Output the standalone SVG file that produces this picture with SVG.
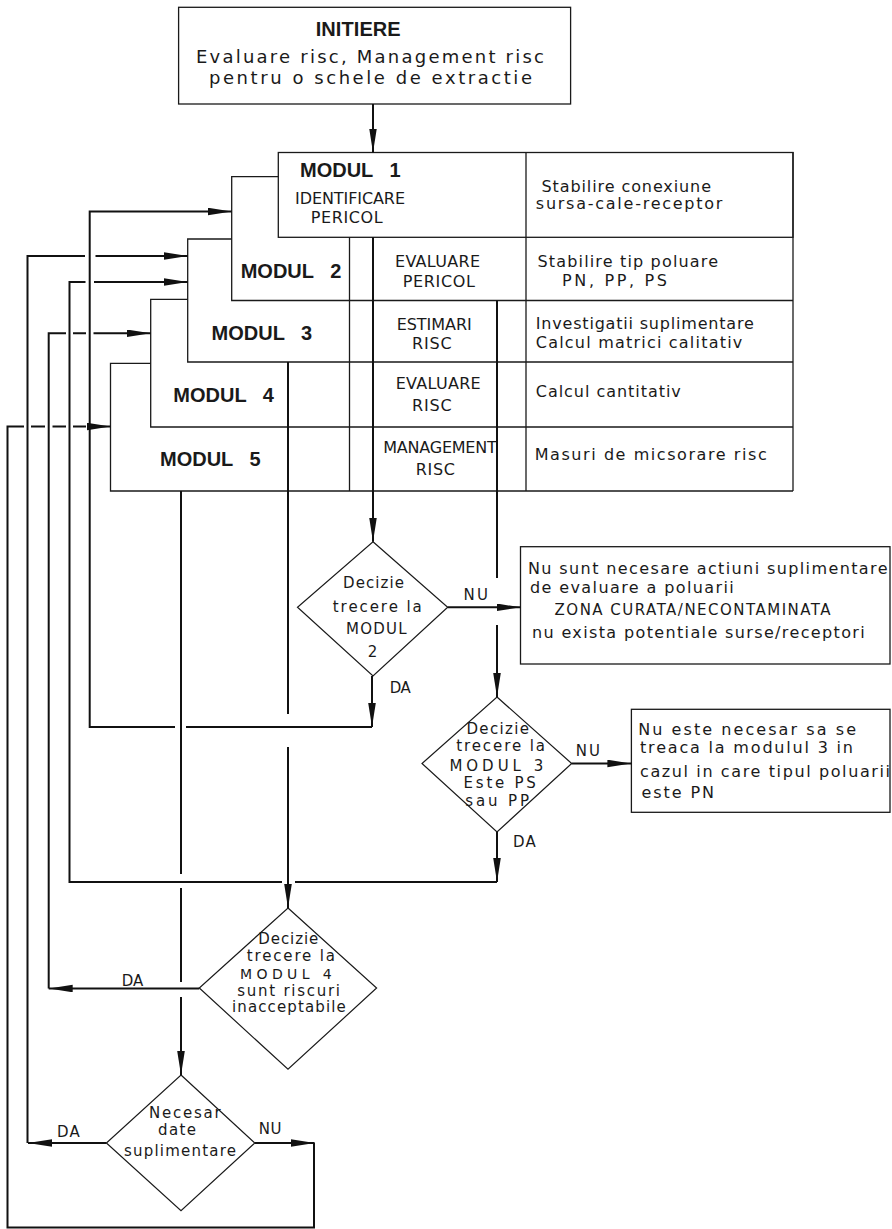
<svg xmlns="http://www.w3.org/2000/svg" width="892" height="1229" viewBox="0 0 892 1229">
<style>
.bx{fill:none;stroke:#1a1a1a;stroke-width:1.3}
.dm{fill:none;stroke:#1a1a1a;stroke-width:1.2}
.c{fill:none;stroke:#111;stroke-width:2}
text{font-family:"DejaVu Sans","Liberation Sans",sans-serif;font-size:16px;fill:#1a1a1a}
.b{font-family:"Liberation Sans",Arial,sans-serif;font-weight:bold;font-size:20px;word-spacing:11px}
.s{font-size:15px}
.xs{font-size:14px}
.l{font-size:18px}
</style>
<defs>
<marker id="ah" markerUnits="userSpaceOnUse" markerWidth="24" markerHeight="8" refX="24" refY="3.8" orient="auto">
<path d="M0,0 L24,3.8 L0,7.6 Z" fill="#111"/>
</marker>
</defs>
<rect width="892" height="1229" fill="#fff"/>

<g id="initiere">
<rect class="bx" x="178.6" y="7.3" width="392" height="96.7"/>
<text class="b" x="315.7" y="36" textLength="85" lengthAdjust="spacing">INITIERE</text>
<text class="l" x="196" y="63" textLength="348" lengthAdjust="spacing">Evaluare risc, Management risc</text>
<text class="l" x="209" y="84" textLength="323" lengthAdjust="spacing">pentru o schele de extractie</text>
</g>

<g id="table-grid">
<line class="bx" x1="526" y1="152" x2="526" y2="491"/>
<line class="bx" x1="793" y1="152" x2="793" y2="491"/>
<line class="bx" x1="349.5" y1="237" x2="349.5" y2="491"/>
</g>

<g id="modul1">
<rect class="bx" x="278.3" y="152.5" width="514.7" height="84.8"/>
<text class="b" x="300" y="177">MODUL 1</text>
<text x="295" y="204" textLength="110" lengthAdjust="spacing">IDENTIFICARE</text>
<text x="310.7" y="223" textLength="72" lengthAdjust="spacing">PERICOL</text>
<text x="541.5" y="191.7" textLength="169.5" lengthAdjust="spacing">Stabilire conexiune</text>
<text x="535.8" y="209" textLength="186.6" lengthAdjust="spacing">sursa-cale-receptor</text>
</g>

<g id="modul2">
<polyline class="bx" points="278.3,176.7 231.7,176.7 231.7,300.5 793,300.5"/>
<text class="b" x="240.7" y="278">MODUL 2</text>
<text x="395" y="267" textLength="85" lengthAdjust="spacing">EVALUARE</text>
<text x="402.7" y="287" textLength="72.3" lengthAdjust="spacing">PERICOL</text>
<text x="537.5" y="266.5" textLength="180.5" lengthAdjust="spacing">Stabilire tip poluare</text>
<text x="562" y="286" textLength="105" lengthAdjust="spacing">PN, PP, PS</text>
</g>

<g id="modul3">
<polyline class="bx" points="231.7,239 187.7,239 187.7,362 793,362"/>
<text class="b" x="211.6" y="340">MODUL 3</text>
<text x="396.7" y="330" textLength="75" lengthAdjust="spacing">ESTIMARI</text>
<text x="412" y="349" textLength="39.7" lengthAdjust="spacing">RISC</text>
<text x="535.8" y="329" textLength="218" lengthAdjust="spacing">Investigatii suplimentare</text>
<text x="535.8" y="348" textLength="206.5" lengthAdjust="spacing">Calcul matrici calitativ</text>
</g>

<g id="modul4">
<polyline class="bx" points="187.7,299.3 150.7,299.3 150.7,427 793,427"/>
<text class="b" x="173.3" y="401.7">MODUL 4</text>
<text x="395.7" y="389" textLength="85" lengthAdjust="spacing">EVALUARE</text>
<text x="412" y="410.7" textLength="39.7" lengthAdjust="spacing">RISC</text>
<text x="535.8" y="396.7" textLength="145" lengthAdjust="spacing">Calcul cantitativ</text>
</g>

<g id="modul5">
<polyline class="bx" points="150.7,363.3 110.5,363.3 110.5,491 793,491"/>
<text class="b" x="160" y="465.7">MODUL 5</text>
<text x="383.3" y="453" textLength="113.4" lengthAdjust="spacing">MANAGEMENT</text>
<text x="415.7" y="475" textLength="39.3" lengthAdjust="spacing">RISC</text>
<text x="534.7" y="460" textLength="232" lengthAdjust="spacing">Masuri de micsorare risc</text>
</g>

<g id="decizie1">
<polygon class="dm" points="373,541.7 447.7,607.3 373,676 297.5,607.3"/>
<text class="s" x="343" y="588" textLength="61" lengthAdjust="spacing">Decizie</text>
<text class="s" x="332.8" y="611.7" textLength="89" lengthAdjust="spacing">trecere la</text>
<text class="s" x="346" y="634" textLength="60.7" lengthAdjust="spacing">MODUL</text>
<text class="s" x="372.5" y="656.7" text-anchor="middle">2</text>
</g>

<g id="nota1">
<rect class="bx" x="520.5" y="546.7" width="369.5" height="117.3"/>
<text x="528" y="574" textLength="359.5" lengthAdjust="spacing">Nu sunt necesare actiuni suplimentare</text>
<text x="530" y="593" textLength="203.8" lengthAdjust="spacing">de evaluare a poluarii</text>
<text class="s" x="554.6" y="615" textLength="276" lengthAdjust="spacing">ZONA CURATA/NECONTAMINATA</text>
<text x="532" y="638" textLength="332.7" lengthAdjust="spacing">nu exista potentiale surse/receptori</text>
</g>

<g id="decizie2">
<polygon class="dm" points="497,697 571.7,763.5 497,832 422,763.5"/>
<text class="s" x="466.4" y="734" textLength="62.6" lengthAdjust="spacing">Decizie</text>
<text class="s" x="456.2" y="751" textLength="88.8" lengthAdjust="spacing">trecere la</text>
<text class="s" x="449.4" y="770.7" textLength="93.8" lengthAdjust="spacing">MODUL 3</text>
<text class="s" x="463.6" y="788.3" textLength="72.2" lengthAdjust="spacing">Este PS</text>
<text class="s" x="465.3" y="806" textLength="63.7" lengthAdjust="spacing">sau PP</text>
</g>

<g id="nota2">
<rect class="bx" x="631.4" y="709.3" width="258.6" height="103"/>
<text x="638.2" y="735" textLength="217.8" lengthAdjust="spacing">Nu este necesar sa se</text>
<text x="640" y="753.3" textLength="213" lengthAdjust="spacing">treaca la modulul 3 in</text>
<text x="640" y="776.7" textLength="250" lengthAdjust="spacing">cazul in care tipul poluarii</text>
<text x="641.6" y="797.7" textLength="72.3" lengthAdjust="spacing">este PN</text>
</g>

<g id="decizie3">
<polygon class="dm" points="288,908 376.6,988 288,1069.3 199.3,988"/>
<text class="s" x="258.3" y="944" textLength="60" lengthAdjust="spacing">Decizie</text>
<text class="s" x="246.7" y="960.5" textLength="88.3" lengthAdjust="spacing">trecere la</text>
<text class="xs" x="240" y="978.5" textLength="91.7" lengthAdjust="spacing">MODUL 4</text>
<text class="s" x="237.3" y="995.5" textLength="102.7" lengthAdjust="spacing">sunt riscuri</text>
<text class="s" x="232" y="1012" textLength="113.8" lengthAdjust="spacing">inacceptabile</text>
</g>

<g id="decizie4">
<polygon class="dm" points="181,1075 254.8,1143 181,1210.7 106.4,1143"/>
<text class="s" x="149" y="1118" textLength="71.7" lengthAdjust="spacing">Necesar</text>
<text class="s" x="158" y="1135" textLength="38" lengthAdjust="spacing">date</text>
<text class="s" x="124" y="1156" textLength="112" lengthAdjust="spacing">suplimentare</text>
</g>

<g id="connectors">
<path class="c" d="M373,104 V152.5" marker-end="url(#ah)"/>
<path class="c" d="M373,237 V541.7" marker-end="url(#ah)"/>
<path class="c" d="M447.7,607.3 H520.5" marker-end="url(#ah)"/>
<path class="c" d="M372,676 V727" marker-end="url(#ah)"/>
<path class="c" d="M372,727 H186 M175,727 H89.7 V211.5 H231.7" marker-end="url(#ah)"/>
<path class="c" d="M497,300.5 V578 M497,625 V697" marker-end="url(#ah)"/>
<path class="c" d="M571.7,763.5 H631.4" marker-end="url(#ah)"/>
<path class="c" d="M497,832 V882" marker-end="url(#ah)"/>
<path class="c" d="M497,882 H295 M282,882 H69.5 V282 H85.5 M94,282 H187.7" marker-end="url(#ah)"/>
<path class="c" d="M288,362 V714 M288,747 V908" marker-end="url(#ah)"/>
<path class="c" d="M199.3,988.5 H48.7" marker-end="url(#ah)"/>
<path class="c" d="M48.7,988.5 V333.3 H66 M73,333.3 H86 M93.5,333.3 H150.7" marker-end="url(#ah)"/>
<path class="c" d="M181,491 V874 M181,888 V982 M181,997 V1075" marker-end="url(#ah)"/>
<path class="c" d="M106.4,1143 H28" marker-end="url(#ah)"/>
<path class="c" d="M27.5,1143 V256 H85 M95.5,256 H187.7" marker-end="url(#ah)"/>
<path class="c" d="M254.8,1143 H314.6" marker-end="url(#ah)"/>
<path class="c" d="M314,1143 V1227.5 H7.5 V426.5 H24 M31,426.5 H45 M52.5,426.5 H66 M73,426.5 H86 M93.5,426.5 H110.5" marker-end="url(#ah)"/>
<text class="s" x="463.6" y="600" textLength="24.4" lengthAdjust="spacing">NU</text>
<text class="s" x="389.7" y="693" textLength="21" lengthAdjust="spacing">DA</text>
<text class="s" x="575.7" y="756" textLength="24.3" lengthAdjust="spacing">NU</text>
<text class="s" x="513" y="847" textLength="22.8" lengthAdjust="spacing">DA</text>
<text class="s" x="121.7" y="986" textLength="21.6" lengthAdjust="spacing">DA</text>
<text class="s" x="57" y="1137" textLength="22.7" lengthAdjust="spacing">DA</text>
<text class="s" x="258.8" y="1134" textLength="22.8" lengthAdjust="spacing">NU</text>
</g>
</svg>
